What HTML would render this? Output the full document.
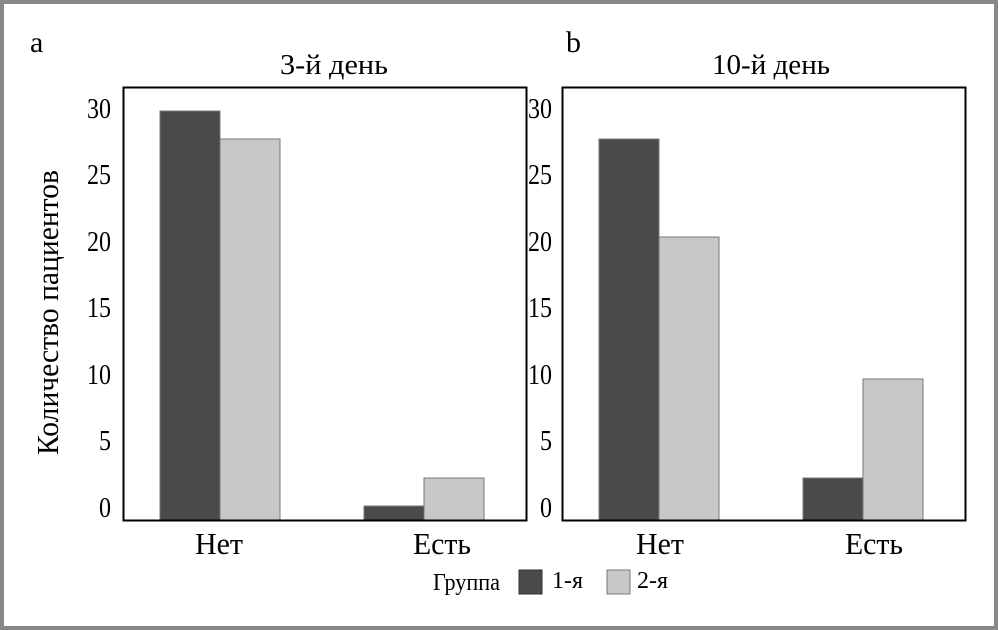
<!DOCTYPE html>
<html><head><meta charset="utf-8"><style>
html,body{margin:0;padding:0;background:#fff}
svg{display:block}
text{font-family:"Liberation Serif",serif;fill:#000}
</style></head><body>
<svg width="998" height="630" viewBox="0 0 998 630">
<rect x="2" y="2" width="994" height="626" fill="#fff" stroke="#888" stroke-width="4"/>
<text x="30" y="52" font-size="30">a</text>
<text x="566" y="52" font-size="30">b</text>
<text x="280" y="74" font-size="29" textLength="108" lengthAdjust="spacingAndGlyphs">3-й день</text>
<text x="712" y="74" font-size="29" textLength="118" lengthAdjust="spacingAndGlyphs">10-й день</text>
<text transform="translate(58,455) rotate(-90)" font-size="31" textLength="285" lengthAdjust="spacingAndGlyphs">Количество пациентов</text>
<g font-size="29">
<text x="87" y="118" textLength="24" lengthAdjust="spacingAndGlyphs">30</text>
<text x="87" y="184" textLength="24" lengthAdjust="spacingAndGlyphs">25</text>
<text x="87" y="251" textLength="24" lengthAdjust="spacingAndGlyphs">20</text>
<text x="87" y="317" textLength="24" lengthAdjust="spacingAndGlyphs">15</text>
<text x="87" y="384" textLength="24" lengthAdjust="spacingAndGlyphs">10</text>
<text x="99" y="450" textLength="12" lengthAdjust="spacingAndGlyphs">5</text>
<text x="99" y="517" textLength="12" lengthAdjust="spacingAndGlyphs">0</text>
<text x="528" y="118" textLength="24" lengthAdjust="spacingAndGlyphs">30</text>
<text x="528" y="184" textLength="24" lengthAdjust="spacingAndGlyphs">25</text>
<text x="528" y="251" textLength="24" lengthAdjust="spacingAndGlyphs">20</text>
<text x="528" y="317" textLength="24" lengthAdjust="spacingAndGlyphs">15</text>
<text x="528" y="384" textLength="24" lengthAdjust="spacingAndGlyphs">10</text>
<text x="540" y="450" textLength="12" lengthAdjust="spacingAndGlyphs">5</text>
<text x="540" y="517" textLength="12" lengthAdjust="spacingAndGlyphs">0</text>
</g>
<g stroke="#777" stroke-width="1">
<rect x="160" y="111" width="60" height="409" fill="#4a4a4c"/>
<rect x="220" y="139" width="60" height="381" fill="#c8c8ca"/>
<rect x="364" y="506" width="60" height="14" fill="#4a4a4c"/>
<rect x="424" y="478" width="60" height="42" fill="#c8c8ca"/>
<rect x="599" y="139" width="60" height="381" fill="#4a4a4c"/>
<rect x="659" y="237" width="60" height="283" fill="#c8c8ca"/>
<rect x="803" y="478" width="60" height="42" fill="#4a4a4c"/>
<rect x="863" y="379" width="60" height="141" fill="#c8c8ca"/>
</g>
<rect x="123.5" y="87.5" width="403" height="433" fill="none" stroke="#000" stroke-width="2"/>
<rect x="562.5" y="87.5" width="403" height="433" fill="none" stroke="#000" stroke-width="2"/>
<g font-size="31">
<text x="195" y="554" textLength="48" lengthAdjust="spacingAndGlyphs">Нет</text>
<text x="413" y="554" textLength="58" lengthAdjust="spacingAndGlyphs">Есть</text>
<text x="636" y="554" textLength="48" lengthAdjust="spacingAndGlyphs">Нет</text>
<text x="845" y="554" textLength="58" lengthAdjust="spacingAndGlyphs">Есть</text>
</g>
<text x="433" y="590" font-size="24" textLength="67" lengthAdjust="spacingAndGlyphs">Группа</text>
<rect x="519" y="570" width="23" height="24" fill="#4a4a4c" stroke="#333"/>
<text x="552" y="588" font-size="24" textLength="31" lengthAdjust="spacingAndGlyphs">1-я</text>
<rect x="607" y="570" width="23" height="24" fill="#c8c8ca" stroke="#777"/>
<text x="637" y="588" font-size="24" textLength="31" lengthAdjust="spacingAndGlyphs">2-я</text>
</svg>
</body></html>
